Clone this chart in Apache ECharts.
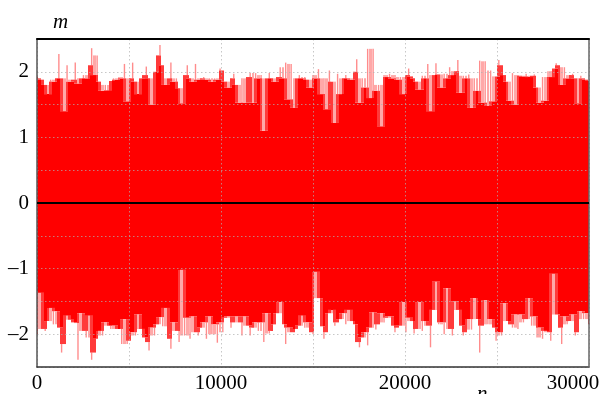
<!DOCTYPE html>
<html><head><meta charset="utf-8">
<script src="https://cdn.jsdelivr.net/npm/echarts@6/dist/echarts.min.js"></script>
<style>html,body{margin:0;padding:0;background:#fff}#c{width:603px;height:394px}</style>
</head><body><div id="c"></div>
<script>
const X_MIN = 0, X_MAX = 30000, X_INTERVAL = 5000;
const Y_MIN = -2.5, Y_MAX = 2.5, Y_INTERVAL = 0.5;
const xTickLabels = [0, 10000, 20000, 30000];
const yTickLabels = [-2, -1, 0, 1, 2];
// upper envelope of the signal m(n), evenly spaced over n = 0 … 30000
const upper = [
1.93,1.9,1.88,1.8,1.66,1.88,1.85,1.9,2.27,1.9,
1.4,2.1,1.85,1.88,2.14,1.82,1.9,1.95,1.9,2.1,
2.36,1.95,2.25,1.85,1.71,1.8,1.72,1.86,1.9,1.88,
1.92,1.9,2.12,1.55,1.9,2.14,1.85,1.66,1.9,1.95,
2.08,1.9,1.5,2.0,2.25,2.41,2.1,1.8,1.9,2.14,
1.85,1.9,1.75,1.52,1.95,2.1,1.9,1.85,2.12,1.88,
1.9,1.92,1.88,1.9,1.85,1.9,1.88,2.05,
2.02,1.85,1.76,1.9,1.97,1.8,1.53,1.9,1.53,1.92,
1.98,1.53,1.98,1.9,1.95,1.1,1.9,1.98,1.9,1.85,
1.92,2.07,1.9,2.14,1.58,2.12,1.45,1.9,1.95,1.9,
1.92,1.88,1.76,1.95,1.9,2.04,1.66,1.9,1.43,2.02,
1.85,1.22,1.97,1.66,1.9,1.95,1.9,1.88,2.0,2.19,
1.53,1.9,1.76,2.35,1.6,2.35,1.71,1.8,1.17,1.95,
1.92,1.97,1.9,1.95,1.88,1.92,1.66,
1.95,2.05,1.93,1.9,1.85,1.73,1.94,1.9,2.12,1.4,
1.95,2.13,1.96,1.76,1.97,1.9,2.07,1.95,2.01,2.18,
1.68,1.94,1.9,1.96,1.45,1.9,1.71,2.17,1.53,2.16,
1.48,2.02,1.55,1.93,2.18,2.1,1.95,1.85,1.56,1.98,
1.5,1.95,1.94,1.93,1.97,1.92,1.94,1.96,1.76,1.53,
1.92,1.56,2.01,1.92,2.05,2.13,2.1,1.8,2.07,1.9,
1.95,1.97,1.9,1.52,1.94,1.9,1.88,1.86
];
// lower envelope of the signal m(n)
const lower = [
-2.0,-1.37,-1.92,-1.95,-1.8,-1.6,-1.85,-1.65,-1.9,-2.28,
-2.15,-1.72,-1.78,-1.82,-1.83,-2.39,-1.68,-1.95,-2.05,-1.72,
-2.39,-2.28,-2.07,-1.95,-2.02,-1.82,-1.87,-1.92,-1.87,-1.92,
-1.92,-2.15,-1.77,-2.15,-2.1,-1.97,-2.02,-1.7,-1.92,-2.05,
-2.12,-2.25,-1.9,-2.02,-1.85,-1.74,-1.88,-1.6,-2.07,-2.22,
-1.82,-1.95,-2.12,-1.02,-2.02,-1.75,-2.07,-1.73,-1.97,-2.02,
-1.9,-1.82,-2.07,-1.73,-2.0,-1.85,-2.13,-1.82,-1.97,-1.75,
-1.73,-1.9,-1.82,-1.73,-1.82,-2.02,-1.73,-1.87,-2.02,-1.9,
-1.82,-1.95,-1.82,-2.12,-1.68,-1.99,-1.95,-1.85,-1.68,-1.51,
-1.85,-2.15,-1.9,-1.97,-1.97,-1.92,-1.87,-1.72,-1.9,-1.82,
-1.97,-2.0,
-1.05,-1.45,-1.88,-2.07,-1.97,-1.68,-1.63,-1.87,-1.82,-1.77,
-1.68,-1.85,-1.63,-1.8,-1.85,-2.12,-2.2,-2.05,-1.97,-2.17,
-1.9,-1.67,-1.93,-1.85,-1.68,-1.82,-1.75,-1.73,-1.87,-1.97,
-1.9,-1.87,-1.51,-1.97,-1.75,-1.8,-1.99,-1.92,-1.51,-1.95,
-1.8,-1.87,-2.2,-1.63,-1.2,-1.85,-1.82,-2.0,-1.3,-1.92,
-2.02,-1.5,-1.63,-1.87,-2.02,-1.97,-1.77,-1.93,-1.45,-1.77,
-2.28,-1.87,-1.48,-1.85,-1.77,-1.9,-2.1,-1.97,-2.02,-1.53,
-1.8,-1.85,-1.9,-1.7,-1.92,-1.7,-1.82,-1.77,-1.45,-1.87,
-1.73,-2.05,-1.9,-2.07,-1.95,-1.97,-2.1,-1.08,-1.7,-1.9,
-2.15,-1.73,-1.85,-1.8,-1.7,-2.02,-1.97,-1.65,-1.77,-1.68,-1.85
];
const STEP = (X_MAX - X_MIN) / (upper.length - 1);

const FONT = '"Liberation Serif","Times New Roman",serif';
const RED = '#ff0000', MID = '#ff3a3a', PINK = 'rgba(255,0,0,0.45)', NOTCH = '#ffa8a8';
const chart = echarts.init(document.getElementById('c'), null, {renderer:'canvas'});

const sampleData = upper.map((u,i)=>[X_MIN + i*STEP, u, lower[i]]);

function renderItem(params, api){
  const i = params.dataIndex;
  const n = api.value(0), u = api.value(1), l = api.value(2);
  const xl = Math.round(api.coord([n - STEP/2, 0])[0]);
  const xr = Math.round(api.coord([n + STEP/2, 0])[0]);
  const xc = api.coord([n, 0])[0];
  const Y = v => api.coord([n, v])[1];
  const pu = i>0 ? upper[i-1] : u, nu = i<upper.length-1 ? upper[i+1] : u;
  const pl = i>0 ? lower[i-1] : l, nl = i<lower.length-1 ? lower[i+1] : l;
  const kids = [];
  const W = xr - xl;
  const rect = (top, bot, fill, x, w) => ({type:'rect', shape:{x:x, y:Y(top), width:w, height:Y(bot)-Y(top)}, style:{fill}});
  // solid core
  const solidTop = Math.min(u, pu, nu);
  const solidBot = Math.max(l, pl, nl);
  kids.push(rect(solidTop, solidBot, RED, xl, W));
  // fringe band up to the higher neighbour
  const midTop = Math.min(u, Math.max(pu, nu));
  const midBot = Math.max(l, Math.min(pl, nl));
  if (midTop > solidTop) kids.push(rect(midTop, solidTop, MID, xl, W));
  if (midBot < solidBot) kids.push(rect(solidBot, midBot, MID, xl, W));
  // thin spikes beyond neighbours
  if (u > midTop) kids.push(rect(u, midTop, PINK, xc-0.7, 1.4));
  if (l < midBot) kids.push(rect(midBot, l, PINK, xc-0.7, 1.4));
  // dips below neighbours: pale notch
  const uN = Math.min(pu, nu), lN = Math.max(pl, nl);
  if (u < uN) kids.push(rect(uN, u, NOTCH, xl, W));
  if (l > lN) kids.push(rect(l, lN, NOTCH, xl, W));
  return {type:'group', children:kids};
}

const fmtNum = v => (v < 0 ? '\u2013' + Math.abs(v) : String(v));
const gridLine = {show:true, lineStyle:{color:'rgba(175,175,175,0.7)', type:[1.5,2.5], width:1}};
chart.setOption({
  animation:false,
  grid:[{left:37, top:39, right:14, bottom:27, show:false, containLabel:false, outerBoundsMode:'none'}],
  xAxis:[{
    type:'value', min:X_MIN, max:X_MAX, interval:X_INTERVAL, position:'bottom',
    axisLine:{show:true, onZero:false, lineStyle:{color:'#333', width:1.5}},
    axisTick:{show:false},
    axisLabel:{color:'#000', fontFamily:FONT, fontSize:21, margin:6, showMaxLabel:true, hideOverlap:false,
      formatter: v => xTickLabels.includes(v) ? (v === X_MAX ? '{last|' + v + '}' : String(v)) : '',
      rich:{last:{fontFamily:FONT, fontSize:21, color:'#000', padding:[0,32,0,0]}}},
    splitLine:gridLine, z:3
  },{
    type:'value', min:X_MIN, max:X_MAX, position:'top',
    axisLine:{show:true, onZero:false, lineStyle:{color:'#000', width:2}},
    axisTick:{show:false}, axisLabel:{show:false}, splitLine:{show:false}, z:4
  }],
  yAxis:[{
    type:'value', min:Y_MIN, max:Y_MAX, interval:Y_INTERVAL, position:'left',
    axisLine:{show:true, onZero:false, lineStyle:{color:'#555', width:1.5}},
    axisTick:{show:false},
    axisLabel:{color:'#000', fontFamily:FONT, fontSize:21, margin:8,
      formatter: v => yTickLabels.includes(v) ? fmtNum(v) : ''},
    splitLine:gridLine, z:3
  },{
    type:'value', min:Y_MIN, max:Y_MAX, position:'right',
    axisLine:{show:true, onZero:false, lineStyle:{color:'#666', width:1.5}},
    axisTick:{show:false}, axisLabel:{show:false}, splitLine:{show:false}, z:4
  }],
  series:[
    { type:'custom', data:sampleData, renderItem, clip:true, z:2, silent:true,
      encode:{x:0, y:[1,2]} },
    { type:'line', data:[[X_MIN,0],[X_MAX,0]], symbol:'none', z:5, silent:true,
      lineStyle:{color:'#000', width:2} }
  ],
  graphic:[
    {type:'text', left:53, top:12, style:{text:'m', font:'italic 21px '+FONT, fill:'#000'}},
    {type:'text', left:477, top:384, style:{text:'n', font:'italic 21px '+FONT, fill:'#000'}}
  ]
});
</script></body></html>
